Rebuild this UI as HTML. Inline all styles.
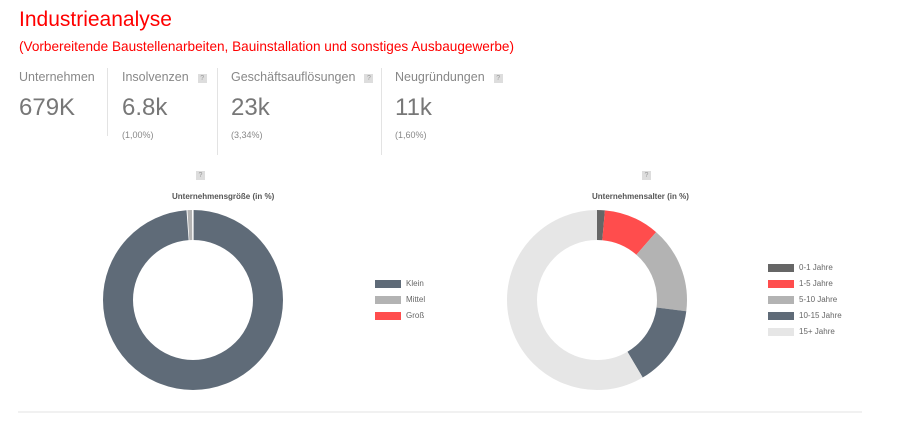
<!DOCTYPE html>
<html><head><meta charset="utf-8"><style>
body{margin:0;width:908px;height:428px;background:#fff;font-family:"Liberation Sans",sans-serif;position:relative;overflow:hidden}
.a{position:absolute;white-space:nowrap}
.t{left:19px;top:8px;font-size:21px;color:#f00}
.s{left:19px;top:39px;font-size:13.6px;color:#f00}
.l{top:70px;font-size:12.5px;color:#888}
.v{top:94px;font-size:24px;color:#777}
.p{top:130px;font-size:9px;color:#888}
.d{width:1px;background:#e3e3e3;top:68px}
.q{display:inline-block;width:9px;height:9px;background:#ddd;color:#999;font-size:7px;text-align:center;line-height:9px;margin-left:9px;vertical-align:1px}
.ct{font-size:8px;font-weight:bold;color:#555;top:192px}
.lg{font-size:8px;color:#666}
.sw{position:absolute;width:26px;height:8px}
</style></head><body>
<div class="a t">Industrieanalyse</div>
<div class="a s">(Vorbereitende Baustellenarbeiten, Bauinstallation und sonstiges Ausbaugewerbe)</div>
<div class="a l" style="left:19px">Unternehmen</div>
<div class="a l" style="left:122px">Insolvenzen<span class="q">?</span></div>
<div class="a l" style="left:231px">Geschäftsauflösungen<span class="q">?</span></div>
<div class="a l" style="left:395px">Neugründungen<span class="q">?</span></div>
<div class="a v" style="left:19px">679K</div>
<div class="a v" style="left:122px">6.8k</div>
<div class="a v" style="left:231px">23k</div>
<div class="a v" style="left:395px">11k</div>
<div class="a p" style="left:122px">(1,00%)</div>
<div class="a p" style="left:231px">(3,34%)</div>
<div class="a p" style="left:395px">(1,60%)</div>
<div class="a d" style="left:107px;height:68px"></div>
<div class="a d" style="left:217px;height:87px"></div>
<div class="a d" style="left:381px;height:87px"></div>
<div class="a" style="left:196px;top:171px;width:9px;height:9px;background:#ddd;font-size:7px;color:#999;text-align:center;line-height:9px">?</div>
<div class="a" style="left:642px;top:171px;width:9px;height:9px;background:#ddd;font-size:7px;color:#999;text-align:center;line-height:9px">?</div>
<div class="a ct" style="left:172px">Unternehmensgröße (in %)</div>
<div class="a ct" style="left:592px">Unternehmensalter (in %)</div>
<svg class="a" style="left:0;top:0" width="908" height="428">
<g transform="rotate(-90 193 300)" fill="none" stroke-width="30">
<circle cx="193" cy="300" r="75" stroke="#5f6b78" stroke-dasharray="465.6 471.2"/>
<circle cx="193" cy="300" r="75" stroke="#b3b3b3" stroke-dasharray="0 466.4 3.8 471.2"/>
</g>
<line x1="193" y1="209" x2="193" y2="240" stroke="#fff" stroke-width="1.2"/>
<g transform="rotate(-90 597 300)" fill="none" stroke-width="30">
<circle cx="597" cy="300" r="75" stroke="#666" stroke-dasharray="6.6 471.2"/>
<circle cx="597" cy="300" r="75" stroke="#ff4d4d" stroke-dasharray="0 6.6 47.1 471.2"/>
<circle cx="597" cy="300" r="75" stroke="#b3b3b3" stroke-dasharray="0 53.7 73.5 471.2"/>
<circle cx="597" cy="300" r="75" stroke="#5f6b78" stroke-dasharray="0 127.2 68.4 471.2"/>
<circle cx="597" cy="300" r="75" stroke="#e6e6e6" stroke-dasharray="0 195.6 275.6 471.2"/>
</g>
<line x1="18" y1="412" x2="862" y2="412" stroke="#e3e3e3"/>
</svg>
<div class="sw" style="left:375px;top:280px;background:#5f6b78"></div><div class="a lg" style="left:406px;top:279px">Klein</div>
<div class="sw" style="left:375px;top:296px;background:#b3b3b3"></div><div class="a lg" style="left:406px;top:295px">Mittel</div>
<div class="sw" style="left:375px;top:312px;background:#ff4d4d"></div><div class="a lg" style="left:406px;top:311px">Groß</div>
<div class="sw" style="left:768px;top:264px;background:#666"></div><div class="a lg" style="left:799px;top:263px">0-1 Jahre</div>
<div class="sw" style="left:768px;top:280px;background:#ff4d4d"></div><div class="a lg" style="left:799px;top:279px">1-5 Jahre</div>
<div class="sw" style="left:768px;top:296px;background:#b3b3b3"></div><div class="a lg" style="left:799px;top:295px">5-10 Jahre</div>
<div class="sw" style="left:768px;top:312px;background:#5f6b78"></div><div class="a lg" style="left:799px;top:311px">10-15 Jahre</div>
<div class="sw" style="left:768px;top:328px;background:#e6e6e6"></div><div class="a lg" style="left:799px;top:327px">15+ Jahre</div>
</body></html>
